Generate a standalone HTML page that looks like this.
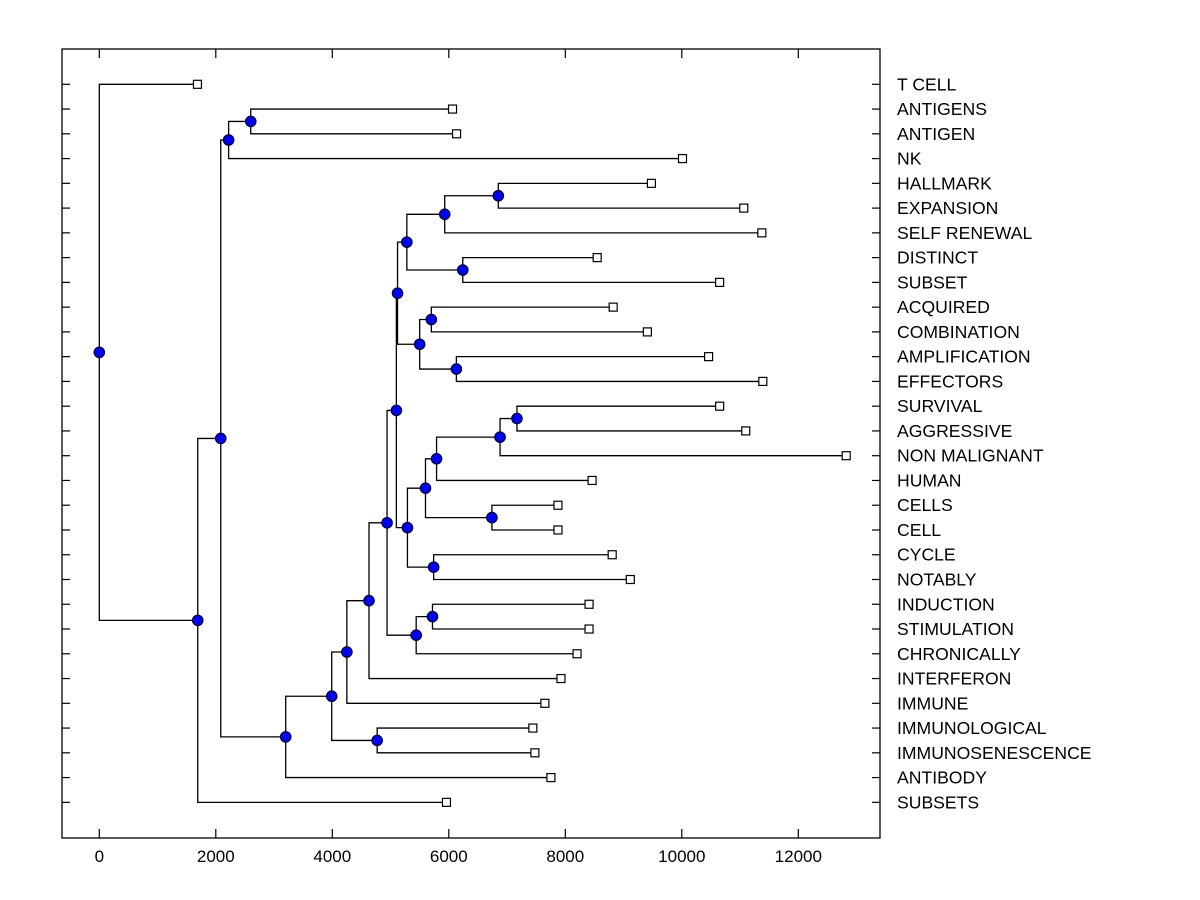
<!DOCTYPE html>
<html><head><meta charset="utf-8"><style>
html,body{margin:0;padding:0;background:#fff;}
svg{display:block;font-family:"Liberation Sans",Arial,sans-serif;}
</style></head>
<body>
<svg id="chart" width="1200" height="900" xmlns="http://www.w3.org/2000/svg"></svg>
<script>
const leafLabels = ["T CELL","ANTIGENS","ANTIGEN","NK","HALLMARK","EXPANSION","SELF RENEWAL","DISTINCT","SUBSET","ACQUIRED","COMBINATION","AMPLIFICATION","EFFECTORS","SURVIVAL","AGGRESSIVE","NON MALIGNANT","HUMAN","CELLS","CELL","CYCLE","NOTABLY","INDUCTION","STIMULATION","CHRONICALLY","INTERFERON","IMMUNE","IMMUNOLOGICAL","IMMUNOSENESCENCE","ANTIBODY","SUBSETS"];
const leafValues = [1685,6064,6133,10012,9478,11064,11374,8547,10650,8822,9409,10460,11391,10650,11098,12822,8460,7874,7874,8805,9116,8408,8408,8202,7926,7650,7443,7478,7753,5960];
// merges: [name, childA, childB, height]; children are leaf indices (numbers) or merge names
const mergeNames = ["E","C","T","R","S","P","U","V","Q","N","AB","AA","Y","Z","W","X","O","K","M","L","J","I","G","H","F","D","B","A","root"];
const mergeChildA = [1,"E",4,"T",7,"R",9,11,"U","P",13,"AB","AA",17,"Y",19,"W","N",21,"M","K","J","I",26,"G","F","C","B",0];
const mergeChildB = [2,3,5,6,8,"S",10,12,"V","Q",14,15,16,18,"Z",20,"X","O",22,23,"L",24,25,27,"H",28,"D",29,"A"];
const mergeHeights = [2600,2220,6850,5930,6240,5280,5700,6130,5500,5120,7170,6880,5790,6740,5600,5740,5290,5100,5720,5440,4940,4630,4250,4770,3990,3200,2085,1690,0];
const xTicks = [0,2000,4000,6000,8000,10000,12000];

const NS="http://www.w3.org/2000/svg";
const svg=document.getElementById('chart');
const L=62,R=880,T=49,B=838;
const xs=v=>99.3+v*0.05825;
const ys=i=>84.3+i*24.76;
function el(tag,attrs,parent){const e=document.createElementNS(NS,tag);for(const k in attrs)e.setAttribute(k,attrs[k]);(parent||svg).appendChild(e);return e;}

const gLines=el('g',{});


const gMarks=el('g',{});



const pos={};
leafLabels.forEach((l,i)=>{pos[i]={x:xs(leafValues[i]),y:ys(i)};});
function P(c){return pos[c];}
mergeNames.forEach((n,k)=>{
  const a=P(mergeChildA[k]),b=P(mergeChildB[k]);
  const x=xs(mergeHeights[k]);const y=(a.y+b.y)/2;
  pos[n]={x,y};
  const p=el('path',{d:`M${a.x},${a.y}H${x}V${b.y}H${b.x}`,fill:'none',stroke:'#000','stroke-width':1.3},gLines);
  
  
});
mergeNames.forEach((n,k)=>{
  const c=el('circle',{cx:pos[n].x,cy:pos[n].y,r:5.3,fill:'#0000ff',stroke:'#000','stroke-width':1},gMarks);
  
  
});
leafLabels.forEach((l,i)=>{
  const s=el('rect',{x:pos[i].x-4,y:pos[i].y-4,width:8,height:8,fill:'#fff',stroke:'#000','stroke-width':1.2},gMarks);
  
  
  const t=el('text',{x:897,y:ys(i)+6,'font-size':17.6,fill:'#000'});
  t.textContent=l;
  
  
  const tl=el('line',{x1:L,x2:L+8,y1:ys(i),y2:ys(i),stroke:'#000','stroke-width':1.2});
  
  
  const tr=el('line',{x1:R-8,x2:R,y1:ys(i),y2:ys(i),stroke:'#000','stroke-width':1.2});
  
  
});
xTicks.forEach(v=>{
  const x=xs(v);
  const a=el('line',{x1:x,x2:x,y1:B,y2:B-9,stroke:'#000','stroke-width':1.2});
  
  
  const b=el('line',{x1:x,x2:x,y1:T,y2:T+9,stroke:'#000','stroke-width':1.2});
  
  
  const t=el('text',{x:x,y:862,'font-size':17,'text-anchor':'middle',fill:'#000'});
  t.textContent=v;
  
  
});
const box=el('rect',{x:L,y:T,width:R-L,height:B-T,fill:'none',stroke:'#000','stroke-width':1.3});


</script>
</body></html>
